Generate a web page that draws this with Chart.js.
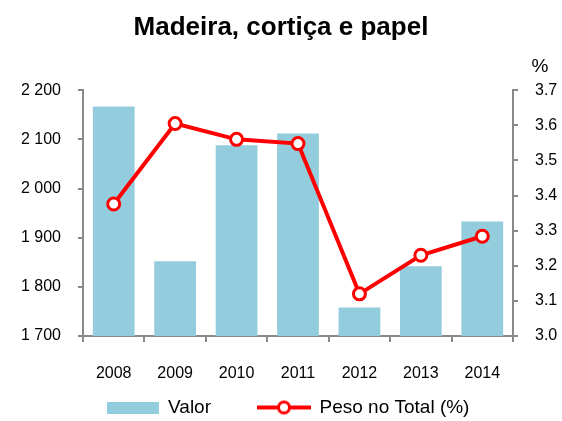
<!DOCTYPE html>
<html>
<head>
<meta charset="utf-8">
<title>Madeira, cortiça e papel</title>
<script src="https://cdn.jsdelivr.net/npm/chart.js@4.4.0/dist/chart.umd.min.js"></script>
<style>
body{margin:0;background:#fff}
#wrap{width:562px;height:421px}
</style>
</head>
<body>
<div id="wrap"><canvas id="madeiraChart"></canvas></div>
<script>
// dados
const anos=["2008","2009","2010","2011","2012","2013","2014"];
const valor=[2167,1852,2088,2112,1758,1842,1933];
const peso=[3.376,3.605,3.56,3.548,3.12,3.23,3.284];

const azul="#93CDDD";
const vermelho="#FF0000";
const cinza="#898989";
const fonte='"Liberation Sans", Arial, sans-serif';

// icones da legenda
function iconeBarra(){
    let c=document.createElement("canvas");
    c.width=52;c.height=12;
    let g=c.getContext("2d");
    g.fillStyle=azul;
    g.fillRect(0,0,52,12);
    return c;
}
function iconeLinha(){
    let c=document.createElement("canvas");
    c.width=54;c.height=16;
    let g=c.getContext("2d");
    g.strokeStyle=vermelho;
    g.lineWidth=4;
    g.beginPath();g.moveTo(0,8);g.lineTo(54,8);g.stroke();
    g.beginPath();g.arc(27,8,5.5,0,Math.PI*2);
    g.fillStyle="#fff";g.fill();
    g.lineWidth=3;g.stroke();
    return c;
}

// "%" por cima do eixo da direita
const percentLabel={
    id:"percentLabel",
    afterDraw(chart){
        let s=chart.scales.y1;
        let c=chart.ctx;
        c.save();
        c.font="19px "+fonte;
        c.fillStyle="#000";
        c.textAlign="center";
        c.fillText("%",s.left+27,67);
        c.restore();
    }
};

// a legenda usa padding grande entre itens; sobe-a para ficar logo abaixo dos anos
const subirLegenda={
    id:"subirLegenda",
    afterLayout(chart){
        let l=chart.legend;
        l.top=351;
        l.bottom=chart.height;
        l.height=l.bottom-l.top;
        l.left+=7;
        l.right+=7;
    }
};

function milhares(v){
    return String(v).replace(/\B(?=(\d{3})+(?!\d))/g," ");
}

let ctx=document.getElementById("madeiraChart").getContext("2d");
let madeiraChart=new Chart(ctx,{
    type:"bar",
    data:{
        labels:anos,
        datasets:[
            {
                type:"line",
                label:"Peso no Total (%)",
                data:peso,
                yAxisID:"y1",
                borderColor:vermelho,
                borderWidth:4,
                pointRadius:6,
                pointBorderWidth:3,
                pointBackgroundColor:"#fff",
                pointBorderColor:vermelho,
                tension:0
            },
            {
                label:"Valor",
                data:valor,
                yAxisID:"y",
                backgroundColor:azul,
                categoryPercentage:1,
                barPercentage:0.68
            }
        ]
    },
    options:{
        responsive:true,
        maintainAspectRatio:false,
        animation:false,
        layout:{padding:{left:0,right:0,top:0,bottom:4}},
        scales:{
            x:{
                grid:{drawOnChartArea:false,color:cinza,lineWidth:2,tickLength:6},
                border:{color:cinza,width:2},
                ticks:{color:"#000",font:{family:fonte,size:16},padding:22},
                afterFit(s){s.height=45;}
            },
            y:{
                position:"left",
                min:1700,
                max:2200,
                grid:{drawOnChartArea:false,color:cinza,lineWidth:2,tickLength:5},
                border:{color:cinza,width:2},
                ticks:{stepSize:100,color:"#000",font:{family:fonte,size:16},padding:17,
                    callback:function(v){return milhares(v);}},
                afterFit(s){s.width=83;}
            },
            y1:{
                position:"right",
                min:3.0,
                max:3.7,
                grid:{drawOnChartArea:false,color:cinza,lineWidth:2,tickLength:5},
                border:{color:cinza,width:2},
                ticks:{stepSize:0.1,color:"#000",font:{family:fonte,size:16},padding:17,
                    callback:function(v){return v.toFixed(1);}},
                afterFit(s){s.width=49;}
            }
        },
        plugins:{
            title:{
                display:true,
                text:"Madeira, cortiça e papel",
                color:"#000",
                font:{family:fonte,size:26,weight:"bold"},
                padding:{top:12,bottom:47}
            },
            legend:{
                position:"bottom",
                maxHeight:36,
                labels:{
                    color:"#000",
                    font:{family:fonte,size:19},
                    usePointStyle:true,
                    pointStyleWidth:52,
                    padding:47,
                    generateLabels:function(chart){
                        return [
                            {text:"Valor",pointStyle:iconeBarra(),fillStyle:azul,strokeStyle:azul,lineWidth:0,datasetIndex:1,fontColor:"#000"},
                            {text:"Peso no Total (%)",pointStyle:iconeLinha(),fillStyle:"#fff",strokeStyle:vermelho,lineWidth:0,datasetIndex:0,fontColor:"#000"}
                        ];
                    }
                }
            },
            tooltip:{enabled:false}
        }
    },
    plugins:[percentLabel,subirLegenda]
});
</script>
</body>
</html>
